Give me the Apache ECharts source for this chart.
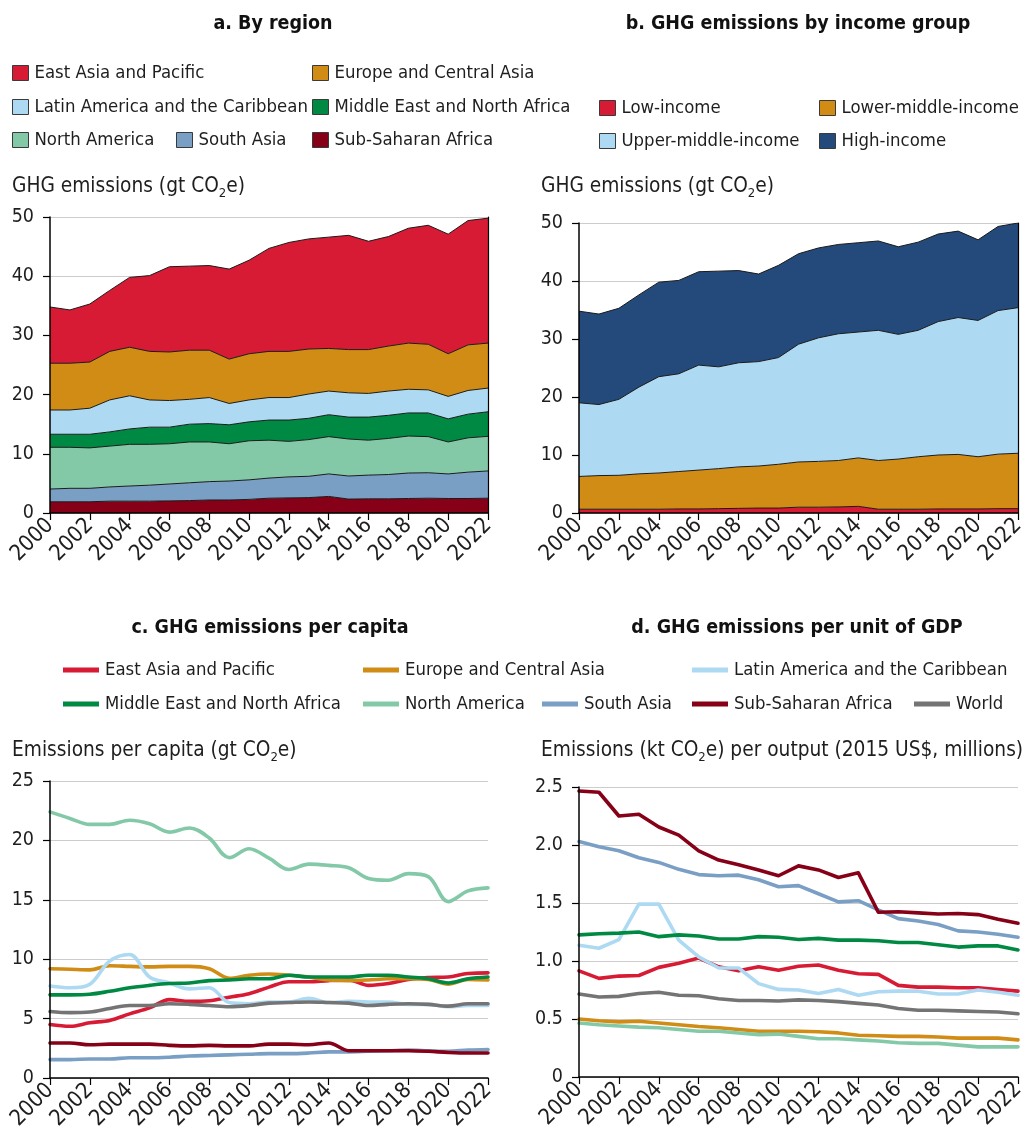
<!DOCTYPE html>
<html>
<head>
<meta charset="utf-8">
<title>GHG emissions</title>
<script src="https://cdn.jsdelivr.net/npm/echarts@6/dist/echarts.min.js"></script>
<style>
  html, body { margin: 0; padding: 0; background: #ffffff; }
  #chart { width: 1027px; height: 1127px; }
</style>
</head>
<body>
<div id="chart"></div>
<script>
// ---------- data ----------
const years = ['2000','2001','2002','2003','2004','2005','2006','2007','2008','2009','2010','2011',
               '2012','2013','2014','2015','2016','2017','2018','2019','2020','2021','2022'];

// a. GHG emissions by region (gt CO2e), stacked bottom to top
const regionSSA       = [1.9,1.9,1.9,2.0,2.0,2.0,2.05,2.1,2.2,2.2,2.3,2.5,2.55,2.6,2.8,2.35,2.4,2.4,2.45,2.5,2.45,2.45,2.5];
const regionSouthAsia = [2.15,2.27,2.27,2.4,2.56,2.7,2.85,3.0,3.1,3.2,3.3,3.4,3.55,3.6,3.8,3.9,4.0,4.1,4.3,4.3,4.15,4.45,4.6];
const regionNorthAm   = [7.05,6.93,6.83,6.9,7.04,6.9,6.8,6.9,6.7,6.3,6.6,6.4,6.0,6.2,6.3,6.25,5.9,6.1,6.25,6.1,5.4,5.8,5.85];
const regionMENA      = [2.2,2.2,2.3,2.4,2.6,2.9,2.8,3.0,3.1,3.2,3.2,3.4,3.6,3.6,3.7,3.7,3.9,3.9,3.9,4.0,3.9,4.0,4.15];
const regionLatAm     = [4.1,4.1,4.4,5.4,5.6,4.6,4.5,4.2,4.4,3.6,3.7,3.8,3.8,4.1,4.0,4.1,4.0,4.1,4.0,3.9,3.8,4.0,4.0];
const regionEurope    = [7.9,7.9,7.8,8.2,8.2,8.2,8.2,8.3,8.0,7.5,7.8,7.8,7.8,7.6,7.2,7.3,7.4,7.6,7.8,7.7,7.2,7.7,7.6];
const regionEAP       = [9.5,9.0,9.8,10.3,11.8,12.8,14.4,14.2,14.3,15.2,15.8,17.4,18.4,18.6,18.8,19.3,18.3,18.5,19.4,20.1,20.2,21.0,21.1];

// b. GHG emissions by income group (gt CO2e), stacked bottom to top
const incomeLow         = [0.65,0.65,0.65,0.65,0.65,0.7,0.7,0.75,0.8,0.85,0.85,1.0,1.0,1.05,1.15,0.65,0.65,0.65,0.7,0.7,0.7,0.75,0.75];
const incomeLowerMiddle = [5.65,5.8,5.85,6.1,6.25,6.45,6.7,6.9,7.15,7.25,7.55,7.8,7.9,8.0,8.35,8.4,8.65,9.05,9.3,9.4,9.0,9.4,9.55];
const incomeUpperMiddle = [12.7,12.25,13.1,14.95,16.6,16.85,18.1,17.55,17.95,18.0,18.4,20.3,21.3,21.85,21.7,22.45,21.5,21.8,23.0,23.6,23.5,24.75,25.1];
const incomeHigh        = [15.8,15.6,15.7,15.9,16.3,16.1,16.1,16.5,15.9,15.1,15.9,15.6,15.5,15.4,15.4,15.4,15.1,15.2,15.1,14.9,13.9,14.5,14.6];

// c. GHG emissions per capita
const capitaEAP       = [4.5,4.35,4.65,4.85,5.4,5.9,6.6,6.45,6.5,6.8,7.1,7.65,8.1,8.1,8.2,8.25,7.8,7.95,8.3,8.45,8.5,8.8,8.85];
const capitaEurope    = [9.2,9.15,9.1,9.45,9.4,9.35,9.4,9.4,9.2,8.4,8.65,8.75,8.65,8.5,8.25,8.2,8.25,8.35,8.35,8.3,7.9,8.3,8.25];
const capitaLatAm     = [7.75,7.6,7.9,9.85,10.4,8.5,8.0,7.5,7.6,6.35,6.25,6.4,6.4,6.7,6.35,6.45,6.4,6.4,6.2,6.2,6.0,6.1,6.1];
const capitaMENA      = [7.0,7.0,7.05,7.3,7.6,7.8,7.95,8.0,8.2,8.25,8.35,8.35,8.65,8.5,8.5,8.5,8.65,8.65,8.5,8.35,8.0,8.35,8.5];
const capitaNorthAm   = [22.4,21.85,21.35,21.35,21.7,21.4,20.7,21.05,20.2,18.55,19.3,18.5,17.55,18.0,17.9,17.7,16.8,16.65,17.2,16.95,14.85,15.75,16.0];
const capitaSouthAsia = [1.55,1.55,1.6,1.6,1.7,1.7,1.75,1.85,1.9,1.95,2.0,2.05,2.05,2.1,2.2,2.2,2.25,2.3,2.35,2.3,2.25,2.35,2.4];
const capitaSSA       = [2.95,2.95,2.8,2.85,2.85,2.85,2.75,2.7,2.75,2.7,2.7,2.85,2.85,2.8,2.95,2.3,2.3,2.3,2.3,2.25,2.15,2.1,2.1];
const capitaWorld     = [5.6,5.5,5.55,5.85,6.1,6.1,6.25,6.2,6.1,6.0,6.1,6.3,6.35,6.4,6.35,6.3,6.1,6.2,6.25,6.2,6.05,6.25,6.25];

// d. GHG emissions per unit of GDP
const gdpEAP       = [0.915,0.85,0.87,0.875,0.945,0.98,1.025,0.95,0.915,0.95,0.92,0.955,0.965,0.92,0.89,0.885,0.79,0.775,0.775,0.77,0.77,0.755,0.74];
const gdpEurope    = [0.5,0.485,0.475,0.48,0.465,0.45,0.435,0.425,0.41,0.395,0.395,0.395,0.39,0.38,0.36,0.355,0.35,0.35,0.345,0.335,0.335,0.335,0.32];
const gdpLatAm     = [1.135,1.11,1.185,1.49,1.49,1.18,1.035,0.94,0.94,0.805,0.755,0.75,0.72,0.755,0.705,0.735,0.74,0.74,0.715,0.715,0.75,0.73,0.705];
const gdpMENA      = [1.225,1.235,1.24,1.25,1.21,1.225,1.215,1.19,1.19,1.21,1.205,1.185,1.195,1.18,1.18,1.175,1.16,1.16,1.14,1.12,1.13,1.13,1.095];
const gdpNorthAm   = [0.465,0.45,0.44,0.43,0.425,0.41,0.395,0.395,0.38,0.365,0.37,0.35,0.33,0.33,0.32,0.31,0.295,0.29,0.29,0.275,0.26,0.26,0.26];
const gdpSouthAsia = [2.03,1.985,1.95,1.89,1.85,1.79,1.745,1.735,1.74,1.7,1.64,1.65,1.58,1.51,1.52,1.44,1.365,1.345,1.315,1.26,1.25,1.23,1.205];
const gdpSSA       = [2.465,2.455,2.25,2.265,2.155,2.085,1.95,1.87,1.83,1.785,1.735,1.82,1.785,1.72,1.76,1.42,1.425,1.415,1.405,1.41,1.4,1.36,1.325];
const gdpWorld     = [0.715,0.69,0.695,0.72,0.73,0.705,0.7,0.675,0.66,0.66,0.655,0.665,0.66,0.65,0.635,0.62,0.59,0.575,0.575,0.57,0.565,0.56,0.545];

// ---------- styling ----------
const FONT = "'DejaVu Sans Condensed', 'Liberation Sans Narrow', sans-serif";
const INK = '#1e1e1e';
const C = {
  eap: '#d81b34', eca: '#d18c16', lac: '#addaf2', mena: '#008942',
  na: '#83c9a8', sa: '#7a9fc5', ssa: '#860017', world: '#747474', high: '#244a7c'
};

const chart = echarts.init(document.getElementById('chart'), null, { renderer: 'canvas' });

// grids: a (top-left), b (top-right), c (bottom-left), d (bottom-right)
// fixed plot rectangles; labels may run to the page edge
const grids = [
  { left: 50,  top: 217, width: 438, height: 296, outerBoundsMode: 'none', containLabel: false },
  { left: 579, top: 223, width: 439, height: 290, outerBoundsMode: 'none', containLabel: false },
  { left: 50,  top: 781, width: 438, height: 297, outerBoundsMode: 'none', containLabel: false },
  { left: 579, top: 787, width: 439, height: 290, outerBoundsMode: 'none', containLabel: false }
];

function xAxisFor(gi) {
  return {
    type: 'category', gridIndex: gi, data: years, boundaryGap: false, z: 10,
    axisLine: { show: true, lineStyle: { color: '#000', width: 1.5 } },
    axisTick: { show: true, interval: 1, length: 7, lineStyle: { color: '#000', width: 1.2 } },
    axisLabel: { interval: 1, rotate: 45, margin: 9, fontSize: 22, fontFamily: FONT, color: INK },
    splitLine: { show: false }
  };
}
function yAxisFor(gi, max, step, fmt) {
  return {
    type: 'value', gridIndex: gi, min: 0, max: max, interval: step,
    axisLine: { show: false },
    axisTick: { show: true, length: 7, lineStyle: { color: '#000', width: 1.2 } },
    axisLabel: { margin: 16, fontSize: 19.5, fontFamily: FONT, color: INK, formatter: fmt },
    splitLine: { show: true, lineStyle: { color: '#cdcdcd', width: 1.2 } }
  };
}
// plain frame lines drawn above the plotted marks
function edgeAxis(gi, max, side, width) {
  return {
    type: 'value', gridIndex: gi, position: side, min: 0, max: max, z: 10,
    axisLine: { show: true, onZero: false, lineStyle: { color: '#000', width: width } },
    axisTick: { show: false }, axisLabel: { show: false }, splitLine: { show: false }
  };
}

function areaSeries(name, data, color, gi, stack) {
  return {
    name: name, type: 'line', xAxisIndex: gi, yAxisIndex: gi, stack: stack, data: data,
    symbol: 'none', smooth: false,
    lineStyle: { color: '#1a1a1a', width: 1 },
    areaStyle: { color: color, opacity: 1 },
    itemStyle: { color: color },
    emphasis: { disabled: true }
  };
}
function lineSeries(name, data, color, gi, smooth) {
  return {
    name: name, type: 'line', xAxisIndex: gi, yAxisIndex: gi, data: data,
    symbol: 'none', smooth: smooth,
    lineStyle: { color: color, width: 3.6, cap: 'round', join: 'round' },
    itemStyle: { color: color },
    emphasis: { disabled: true }
  };
}

// one legend block per entry so each can be placed on its own column/row
function legendItem(name, color, left, cy, kind) {
  const box = kind === 'box';
  return {
    show: true, left: left, top: cy - 12, padding: 0, itemGap: 0, selectedMode: false,
    itemWidth: box ? 16 : 36, itemHeight: box ? 15 : 5,
    data: [{
      name: name, icon: 'rect',
      itemStyle: box ? { color: color, borderColor: '#3a3a3a', borderWidth: 1 }
                     : { color: color, borderWidth: 0 }
    }],
    textStyle: { fontSize: 18.4, fontFamily: FONT, color: INK, lineHeight: 24, padding: [0, 0, 0, 1] }
  };
}

const legends = [
  // a
  legendItem('East Asia and Pacific', C.eap, 12, 73, 'box'),
  legendItem('Europe and Central Asia', C.eca, 312, 73, 'box'),
  legendItem('Latin America and the Caribbean', C.lac, 12, 107, 'box'),
  legendItem('Middle East and North Africa', C.mena, 312, 107, 'box'),
  legendItem('North America', C.na, 12, 140, 'box'),
  legendItem('South Asia', C.sa, 176, 140, 'box'),
  legendItem('Sub-Saharan Africa', C.ssa, 312, 140, 'box'),
  // b
  legendItem('Low-income', C.eap, 599, 108, 'box'),
  legendItem('Lower-middle-income', C.eca, 819, 108, 'box'),
  legendItem('Upper-middle-income', C.lac, 599, 141, 'box'),
  legendItem('High-income', C.high, 819, 141, 'box'),
  // c and d
  legendItem('East Asia and Pacific', C.eap, 63, 670, 'line'),
  legendItem('Europe and Central Asia', C.eca, 363, 670, 'line'),
  legendItem('Latin America and the Caribbean', C.lac, 692, 670, 'line'),
  legendItem('Middle East and North Africa', C.mena, 63, 704, 'line'),
  legendItem('North America', C.na, 363, 704, 'line'),
  legendItem('South Asia', C.sa, 542, 704, 'line'),
  legendItem('Sub-Saharan Africa', C.ssa, 692, 704, 'line'),
  legendItem('World', C.world, 914, 704, 'line')
];

// headings and axis captions
function heading(text, cx, cy) {
  return {
    type: 'text', silent: true,
    style: { text: text, x: cx, y: cy, align: 'center', verticalAlign: 'middle',
             fontSize: 19.5, fontWeight: 'bold', fontFamily: FONT, fill: '#111' }
  };
}
const subRich = {
  m: { fontSize: 20.7, fontFamily: FONT, fill: INK, lineHeight: 24, verticalAlign: 'top' },
  s: { fontSize: 13, fontFamily: FONT, fill: INK, lineHeight: 13, verticalAlign: 'bottom', padding: [15, 0, 0, 0] }
};
function caption(text, x, top) {
  return {
    type: 'text', silent: true,
    style: { text: text, x: x, y: top, align: 'left', verticalAlign: 'top', rich: subRich }
  };
}

const graphics = [
  heading('a. By region', 273, 24),
  heading('b. GHG emissions by income group', 798, 24),
  heading('c. GHG emissions per capita', 270, 628),
  heading('d. GHG emissions per unit of GDP', 797, 628),
  caption('{m|GHG emissions (gt CO}{s|2}{m|e)}', 12, 176),
  caption('{m|GHG emissions (gt CO}{s|2}{m|e)}', 541, 176),
  caption('{m|Emissions per capita (gt CO}{s|2}{m|e)}', 12, 740),
  caption('{m|Emissions (kt CO}{s|2}{m|e) per output (2015 US$, millions)}', 541, 740)
];

const option = {
  animation: false,
  backgroundColor: '#ffffff',
  textStyle: { fontFamily: FONT },
  grid: grids,
  legend: legends,
  graphic: graphics,
  xAxis: [xAxisFor(0), xAxisFor(1), xAxisFor(2), xAxisFor(3)],
  yAxis: [
    yAxisFor(0, 50, 10),
    yAxisFor(1, 50, 10),
    yAxisFor(2, 25, 5),
    yAxisFor(3, 2.5, 0.5, v => (v === 0 ? '0' : v.toFixed(1))),
    edgeAxis(0, 50, 'left', 1.5),
    edgeAxis(1, 50, 'left', 1.5),
    edgeAxis(2, 25, 'left', 1.5),
    edgeAxis(3, 2.5, 'left', 1.5),
    edgeAxis(0, 50, 'right', 1.2),
    edgeAxis(1, 50, 'right', 1.2)
  ],
  series: [
    // a
    areaSeries('Sub-Saharan Africa', regionSSA, C.ssa, 0, 'region'),
    areaSeries('South Asia', regionSouthAsia, C.sa, 0, 'region'),
    areaSeries('North America', regionNorthAm, C.na, 0, 'region'),
    areaSeries('Middle East and North Africa', regionMENA, C.mena, 0, 'region'),
    areaSeries('Latin America and the Caribbean', regionLatAm, C.lac, 0, 'region'),
    areaSeries('Europe and Central Asia', regionEurope, C.eca, 0, 'region'),
    areaSeries('East Asia and Pacific', regionEAP, C.eap, 0, 'region'),
    // b
    areaSeries('Low-income', incomeLow, C.eap, 1, 'income'),
    areaSeries('Lower-middle-income', incomeLowerMiddle, C.eca, 1, 'income'),
    areaSeries('Upper-middle-income', incomeUpperMiddle, C.lac, 1, 'income'),
    areaSeries('High-income', incomeHigh, C.high, 1, 'income'),
    // c
    lineSeries('East Asia and Pacific', capitaEAP, C.eap, 2, 0.35),
    lineSeries('Europe and Central Asia', capitaEurope, C.eca, 2, 0.35),
    lineSeries('Latin America and the Caribbean', capitaLatAm, C.lac, 2, 0.35),
    lineSeries('Middle East and North Africa', capitaMENA, C.mena, 2, 0.35),
    lineSeries('North America', capitaNorthAm, C.na, 2, 0.35),
    lineSeries('South Asia', capitaSouthAsia, C.sa, 2, 0.35),
    lineSeries('Sub-Saharan Africa', capitaSSA, C.ssa, 2, 0.35),
    lineSeries('World', capitaWorld, C.world, 2, 0.35),
    // d
    lineSeries('East Asia and Pacific', gdpEAP, C.eap, 3, false),
    lineSeries('Europe and Central Asia', gdpEurope, C.eca, 3, false),
    lineSeries('Latin America and the Caribbean', gdpLatAm, C.lac, 3, false),
    lineSeries('Middle East and North Africa', gdpMENA, C.mena, 3, false),
    lineSeries('North America', gdpNorthAm, C.na, 3, false),
    lineSeries('South Asia', gdpSouthAsia, C.sa, 3, false),
    lineSeries('Sub-Saharan Africa', gdpSSA, C.ssa, 3, false),
    lineSeries('World', gdpWorld, C.world, 3, false)
  ]
};

chart.setOption(option);
</script>
</body>
</html>
